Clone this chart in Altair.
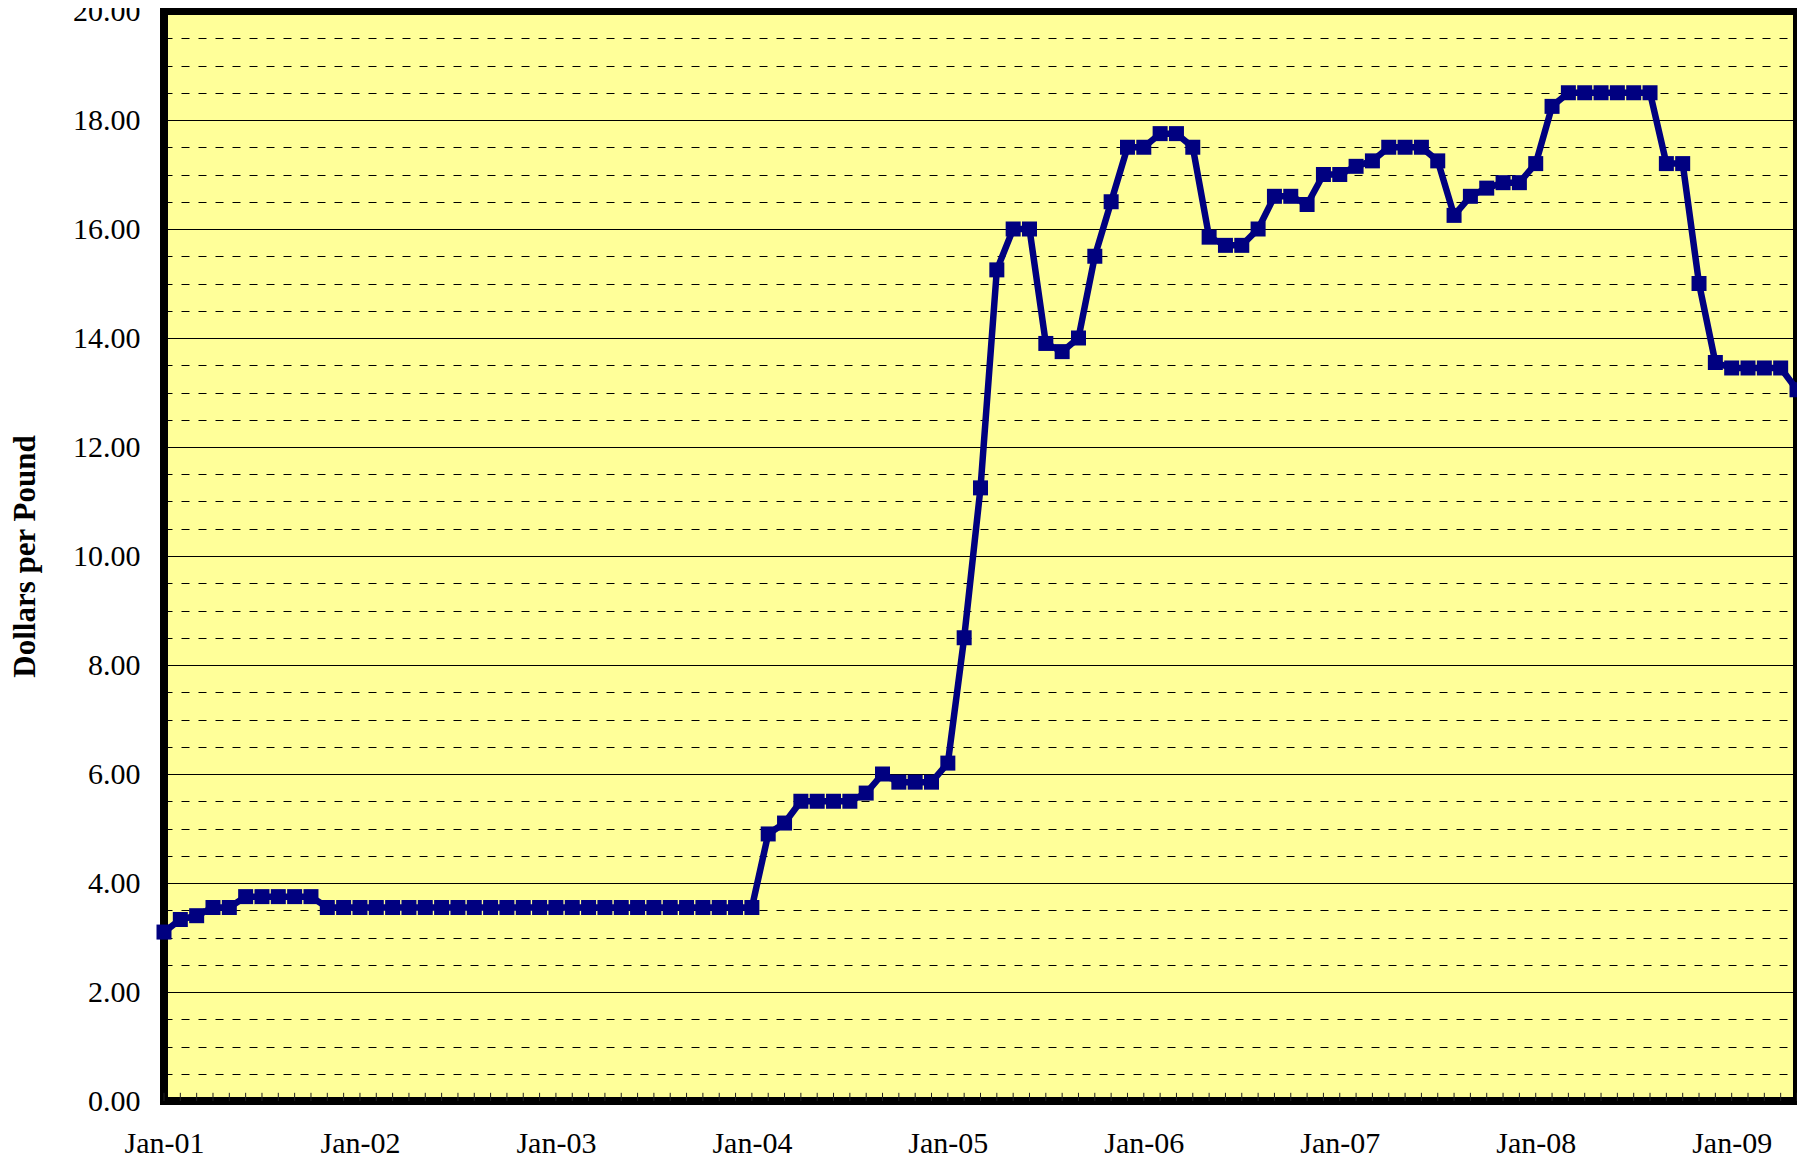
import altair as alt
import pandas as pd

# Monthly price, Jan-2001 .. May-2009 (dollars per pound)
prices = [
    3.10, 3.33, 3.40, 3.55, 3.55, 3.75, 3.75, 3.75, 3.75, 3.75,
    3.55, 3.55, 3.55, 3.55, 3.55, 3.55, 3.55, 3.55, 3.55, 3.55,
    3.55, 3.55, 3.55, 3.55, 3.55, 3.55, 3.55, 3.55, 3.55, 3.55,
    3.55, 3.55, 3.55, 3.55, 3.55, 3.55, 3.55, 4.90, 5.10, 5.50,
    5.50, 5.50, 5.50, 5.65, 6.00, 5.85, 5.85, 5.85, 6.20, 8.50,
    11.25, 15.25, 16.00, 16.00, 13.90, 13.75, 14.00, 15.50, 16.50, 17.50,
    17.50, 17.75, 17.75, 17.50, 15.85, 15.70, 15.70, 16.00, 16.60, 16.60,
    16.45, 17.00, 17.00, 17.15, 17.25, 17.50, 17.50, 17.50, 17.25, 16.25,
    16.60, 16.75, 16.85, 16.85, 17.20, 18.25, 18.50, 18.50, 18.50, 18.50,
    18.50, 18.50, 17.20, 17.20, 15.00, 13.55, 13.45, 13.45, 13.45, 13.45,
    13.05,
]
year_labels = ["Jan-01", "Jan-02", "Jan-03", "Jan-04", "Jan-05",
               "Jan-06", "Jan-07", "Jan-08", "Jan-09"]
year_positions = [0, 12, 24, 36, 48, 60, 72, 84, 96]
y_ticks = [0, 0.5, 1, 1.5, 2, 2.5, 3, 3.5, 4, 4.5, 5, 5.5, 6, 6.5, 7, 7.5,
           8, 8.5, 9, 9.5, 10, 10.5, 11, 11.5, 12, 12.5, 13, 13.5, 14, 14.5,
           15, 15.5, 16, 16.5, 17, 17.5, 18, 18.5, 19, 19.5, 20]

months = list(range(len(prices)))
df = pd.DataFrame({"month": months, "price": prices})

FONT = "Liberation Serif"
NAVY = "#000080"

label_expr = "[" + ",".join("'%s'" % s for s in year_labels) + "][round(datum.value / 12)]"

x_scale = alt.Scale(domain=[0, len(prices) - 1], nice=False, zero=False, padding=0)
y_scale = alt.Scale(domain=[0, 20], nice=False, zero=True)

x_axis = alt.Axis(
    values=year_positions, tickCount=50, labelExpr=label_expr, ticks=False,
    domain=False, grid=False, labelPadding=51, labelBaseline="alphabetic",
    labelFont=FONT, labelFontSize=30, labelColor="black", title=None,
    labelOverlap=False, labelFlush=False, labelBound=False,
)
y_axis = alt.Axis(
    values=y_ticks, tickCount=100,
    labelExpr="datum.value % 2 == 0 ? format(datum.value, '.2f') : ''",
    ticks=False, domain=False, grid=True,
    gridColor="black", gridWidth=1, gridOpacity=1,
    gridDash={"condition": {"test": "datum.value % 2 != 0", "value": [8, 9]}, "value": []},
    labelPadding=24, labelFont=FONT, labelFontSize=30, labelColor="black",
    labelOverlap=False, labelFlush=False,
    title="Dollars per Pound", titleFont=FONT, titleFontSize=31,
    titleFontWeight="bold", titleColor="black", titlePadding=31,
)

month_ticks = alt.Chart(df).mark_rule(color="#222222", strokeWidth=1).encode(
    x=alt.X("month:Q", scale=x_scale, axis=x_axis),
    y=alt.Y("tick0:Q", scale=y_scale, axis=y_axis),
    y2="tick1:Q",
).transform_calculate(tick0="0", tick1="0.15")

line = alt.Chart(df).mark_line(
    color=NAVY, strokeWidth=6.5,
    point=alt.OverlayMarkDef(shape="square", size=225, filled=True, color=NAVY, opacity=1),
).encode(
    x=alt.X("month:Q", scale=x_scale, axis=x_axis),
    y=alt.Y("price:Q", scale=y_scale, axis=y_axis),
)

chart = alt.layer(month_ticks, line).properties(
    width=1633,
    height=1090,
    autosize=alt.AutoSizeParams(type="none"),
    padding={"left": 156, "top": 3, "right": 0, "bottom": 58},
    background="white",
).configure_view(
    fill="#FFFF99", stroke="black", strokeWidth=8,
)

chart.save("out.html", embed_options={"renderer": "svg", "actions": False})
